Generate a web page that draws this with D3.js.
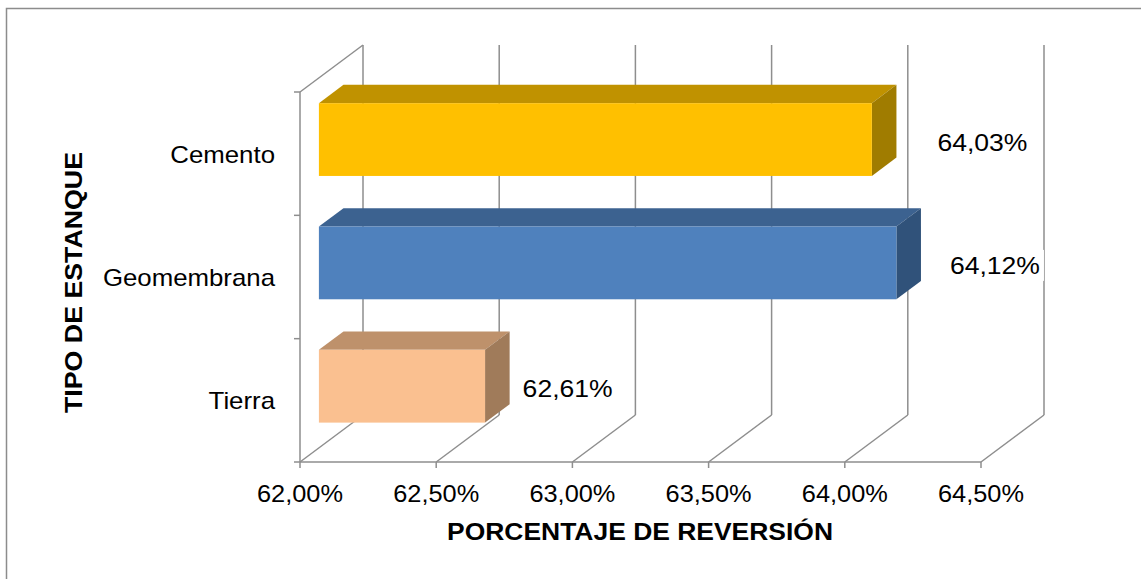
<!DOCTYPE html>
<html lang="es">
<head>
<meta charset="utf-8">
<script src="https://cdnjs.cloudflare.com/ajax/libs/d3/7.8.5/d3.min.js"></script>
<style>
body { margin: 0; background: #fff; }
text { font-family: "Liberation Sans", Arial, sans-serif; fill: #000; }
</style>
</head>
<body>
<script>
var categories = ["Cemento", "Geomembrana", "Tierra"]
var values = [0.6403, 0.6412, 0.6261]
var valueLabels = ["64,03%", "64,12%", "62,61%"]
var labelShift = [41, 29, 13]
var tickValues = [0.62, 0.625, 0.63, 0.635, 0.64, 0.645]
var tickLabels = ["62,00%", "62,50%", "63,00%", "63,50%", "64,00%", "64,50%"]

var front = ["#FFC000", "#4F81BD", "#FAC090"]
var top_ = ["#C09200", "#3C6290", "#BE916B"]
var side = ["#A07C00", "#30527A", "#A07B5A"]

var w = 1141, h = 579
// depth of the 3d box (projection of the z axis)
var depthX = 63, depthY = -47
var barZ0 = 0.3, barZ1 = 0.69

var svg = d3.select("body").append("svg")
    .attr("width", w)
    .attr("height", h)

svg.append("rect")
    .attr("x", 6.5).attr("y", 8.5)
    .attr("width", 1140).attr("height", 600)
    .attr("fill", "none")
    .attr("stroke", "#8c8c8c")
    .attr("stroke-width", 1.5)

var x = d3.scaleLinear().domain([0.62, 0.645]).range([300, 981])
var y = d3.scaleBand().domain(categories).range([92, 462])

var gridColor = "#8e8e8e"
var grid = svg.append("g")
    .attr("stroke", gridColor)
    .attr("stroke-width", 1.5)
    .attr("fill", "none")

var y0 = y.range()[1], yTop = y.range()[0]

// back wall lines
grid.selectAll(".back")
    .data(tickValues)
    .enter()
    .append("line")
    .attr("x1", function(d) { return x(d) + depthX })
    .attr("x2", function(d) { return x(d) + depthX })
    .attr("y1", yTop + depthY)
    .attr("y2", y0 + depthY)

// floor lines
grid.selectAll(".floor")
    .data(tickValues)
    .enter()
    .append("line")
    .attr("x1", function(d) { return x(d) })
    .attr("x2", function(d) { return x(d) + depthX })
    .attr("y1", y0)
    .attr("y2", y0 + depthY)

// left wall
grid.append("line")
    .attr("x1", x(0.62)).attr("x2", x(0.62))
    .attr("y1", yTop).attr("y2", y0)
grid.append("line")
    .attr("x1", x(0.62)).attr("x2", x(0.62) + depthX)
    .attr("y1", yTop).attr("y2", yTop + depthY)

// category ticks
var catTicks = categories.map(function(c) { return y(c) }).concat([y0])
grid.selectAll(".ctick")
    .data(catTicks)
    .enter()
    .append("line")
    .attr("x1", x(0.62) - 6).attr("x2", x(0.62))
    .attr("y1", function(d) { return d })
    .attr("y2", function(d) { return d })

// bottom axis
grid.append("line")
    .attr("x1", x(0.62)).attr("x2", x(0.645))
    .attr("y1", y0).attr("y2", y0)
grid.selectAll(".xtick")
    .data(tickValues)
    .enter()
    .append("line")
    .attr("x1", function(d) { return x(d) })
    .attr("x2", function(d) { return x(d) })
    .attr("y1", y0).attr("y2", y0 + 6)

// bars
var barFrac = 0.59
function pts(arr) {
    return arr.map(function(p) { return p.join(",") }).join(" ")
}
var bars = svg.selectAll(".bar")
    .data(values)
    .enter()
    .append("g")

bars.each(function(d, i) {
    var g = d3.select(this)
    var bh = y.bandwidth() * barFrac
    var cy = y(categories[i]) + y.bandwidth() / 2 + depthY * barZ0
    var x0 = x(0.62) + depthX * barZ0
    var x1 = x(d) + depthX * barZ0
    var yt = cy - bh / 2, yb = cy + bh / 2
    var ddx = depthX * (barZ1 - barZ0), ddy = depthY * (barZ1 - barZ0)
    g.append("polygon")
        .attr("points", pts([[x0, yt], [x0 + ddx, yt + ddy], [x1 + ddx, yt + ddy], [x1, yt]]))
        .attr("fill", top_[i])
    g.append("polygon")
        .attr("points", pts([[x1, yt], [x1 + ddx, yt + ddy], [x1 + ddx, yb + ddy], [x1, yb]]))
        .attr("fill", side[i])
    g.append("rect")
        .attr("x", x0).attr("y", yt)
        .attr("width", x1 - x0).attr("height", bh)
        .attr("fill", front[i])
})

// value labels
var labels = svg.selectAll(".vlab")
    .data(values)
    .enter()
    .append("g")
labels.each(function(d, i) {
    var g = d3.select(this)
    var lx = x(d) + depthX * barZ1 + labelShift[i]
    var ly = y(categories[i]) + y.bandwidth() / 2 + depthY * barZ0 + 3
    var t = g.append("text")
        .attr("x", lx)
        .attr("y", ly + 8)
        .attr("font-size", 24)
        .attr("textLength", 90)
        .attr("lengthAdjust", "spacingAndGlyphs")
        .text(valueLabels[i])
    var bb = t.node().getBBox()
    g.insert("rect", "text")
        .attr("x", bb.x - 4).attr("y", bb.y - 2)
        .attr("width", bb.width + 8).attr("height", bb.height + 4)
        .attr("fill", "#fff")
})

// tick labels
svg.selectAll(".xlab")
    .data(tickValues)
    .enter()
    .append("text")
    .attr("x", function(d) { return x(d) - 43 })
    .attr("y", 502)
    .attr("font-size", 24)
    .attr("textLength", 86)
    .attr("lengthAdjust", "spacingAndGlyphs")
    .text(function(d, i) { return tickLabels[i] })

// category labels (slightly stretched like the source)
svg.selectAll(".ylab")
    .data(categories)
    .enter()
    .append("text")
    .attr("x", 275)
    .attr("y", function(d) { return y(d) + y.bandwidth() / 2 + 9 })
    .attr("text-anchor", "end")
    .attr("font-size", 24)
    .text(function(d) { return d })
    .each(function() {
        var len = this.getComputedTextLength()
        d3.select(this)
            .attr("textLength", len * 1.075)
            .attr("lengthAdjust", "spacingAndGlyphs")
    })

// axis titles
svg.append("text")
    .attr("x", 447)
    .attr("y", 540)
    .attr("font-size", 24)
    .attr("font-weight", "bold")
    .attr("textLength", 386)
    .attr("lengthAdjust", "spacingAndGlyphs")
    .text("PORCENTAJE DE REVERSIÓN")

svg.append("text")
    .attr("transform", "translate(82,413) rotate(-90)")
    .attr("font-size", 24)
    .attr("font-weight", "bold")
    .attr("textLength", 261)
    .attr("lengthAdjust", "spacingAndGlyphs")
    .text("TIPO DE ESTANQUE")
</script>
</body>
</html>
